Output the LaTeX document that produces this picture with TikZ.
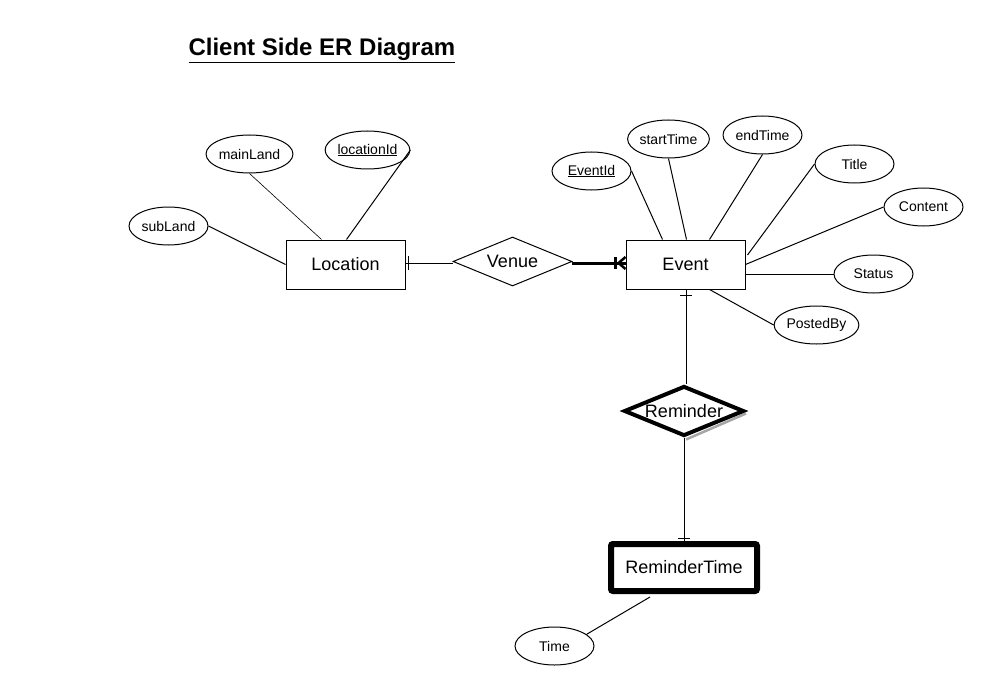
\documentclass[tikz,border=0pt]{standalone}
\usepackage{fontspec}
\setmainfont{Liberation Sans}
\usetikzlibrary{shapes.geometric,calc}
\begin{document}
\begin{tikzpicture}[x=1pt,y=-1pt,
  every path/.style={line width=1pt},
  entity/.style={draw,rectangle,minimum width=119pt,minimum height=49pt,inner sep=0pt,font=\fontsize{18}{20}\selectfont},
  attr/.style={draw,ellipse,minimum width=79pt,minimum height=38pt,inner sep=0pt,font=\fontsize{14}{16}\selectfont},
  rel/.style={draw,diamond,aspect=2.43,minimum width=119pt,minimum height=49pt,inner sep=0pt,font=\fontsize{18}{20}\selectfont},
  conn/.style={draw,line width=1pt},
  tick/.style={draw,line width=1pt}
]
\useasboundingbox[fill=white] (0,0) rectangle (984,687);

\node[anchor=west,font=\fontsize{24}{28}\selectfont\bfseries,inner sep=0pt] (title) at (188,50.5) {\underline{Client Side ER Diagram}};

% entities
\node[entity] (Location) at (345.5,264.5) {Location};
\node[entity] (Event) at (685.5,264.5) {Event};
\node[entity,line width=6pt,minimum width=146pt,minimum height=47pt,rounded corners=2pt] (RT) at (684,567.5) {ReminderTime};

% relationships
\node[rel] (Venue) at (512.5,261.5) {\raisebox{1pt}{Venue}};
\draw[gray!70,line width=2.5pt] (746,413.5) -- (686,439.5);
\node[rel,line width=4pt,aspect=2.4,minimum width=120pt,minimum height=50pt,fill=white] (Reminder) at (684,411) {Reminder};

% attributes
\node[attr] (subLand) at (168.5,226) {subLand};
\node[attr] (mainLand) at (249.5,154) {mainLand};
\node[attr] (locationId) at (367.5,150) {\underline{locationId}};
\node[attr] (EventId) at (591.5,171) {\underline{EventId}};
\node[attr] (startTime) at (668.5,139) {startTime};
\node[attr] (endTime) at (762.5,135) {endTime};
\node[attr] (TitleA) at (854.5,164) {Title};
\node[attr] (Content) at (923.5,207) {Content};
\node[attr] (Status) at (873.5,274) {Status};
\node[attr] (PostedBy) at (816.5,325) {PostedBy};
\node[attr] (Time) at (554.5,646) {Time};

% attribute connectors
\draw[conn] (subLand.east) -- (Location.west);
\draw[conn,line width=0.6pt] (mainLand.south) -- ($(Location.north west)+(36,0)$);
\draw[conn] (locationId.east) -- ($(Location.north west)+(61,0)$);
\draw[conn] (EventId.east) -- ($(Event.north west)+(37,0)$);
\draw[conn] (startTime.south) -- ($(Event.north west)+(61,0)$);
\draw[conn] (endTime.south) -- ($(Event.north west)+(84,0)$);
\draw[conn] (TitleA.west) -- ($(Event.east)+(2,-9.5)$);
\draw[conn] (Content.west) -- (Event.east);
\draw[conn] (Status.west) -- ($(Event.east)+(0,9.5)$);
\draw[conn] (PostedBy.west) -- ($(Event.south west)+(84,0)$);
\draw[conn] ($(RT.south west)+(42,3)$) -- (Time.20);

% Location -- Venue
\draw[conn] (Location.east |- Venue.west) ++(0,1.5) coordinate (lv) -- ($(Venue.west)+(0,1.5)$);
\draw[tick] ($(lv)+(3,-7)$) -- ($(lv)+(3,7)$);

% Venue -- Event (thick, one-to-many)
\coordinate (ve) at ($(Event.west |- Venue.east)+(0,1.5)$);
\draw[line width=3pt] ($(Venue.east)+(-1,1.5)$) -- (ve);
\draw[line width=3pt] ($(ve)+(-10,-6)$) -- ($(ve)+(-10,6)$);
\draw[line width=2.5pt] ($(ve)+(-7,0)$) -- ($(ve)+(0,-6)$);
\draw[line width=2.5pt] ($(ve)+(-7,0)$) -- ($(ve)+(0,6)$);

% Event -- Reminder
\coordinate (er) at ($(Event.south)+(0.5,0)$);
\draw[conn] (er) -- (er |- Reminder.north);
\draw[tick] ($(er)+(-6,6)$) -- ($(er)+(6,6)$);

% Reminder -- ReminderTime
\draw[conn] (Reminder.south) -- (Reminder.south |- RT.north);
\draw[tick] ($(Reminder.south |- RT.north)+(-6,-3)$) -- ($(Reminder.south |- RT.north)+(6,-3)$);
\end{tikzpicture}
\end{document}
